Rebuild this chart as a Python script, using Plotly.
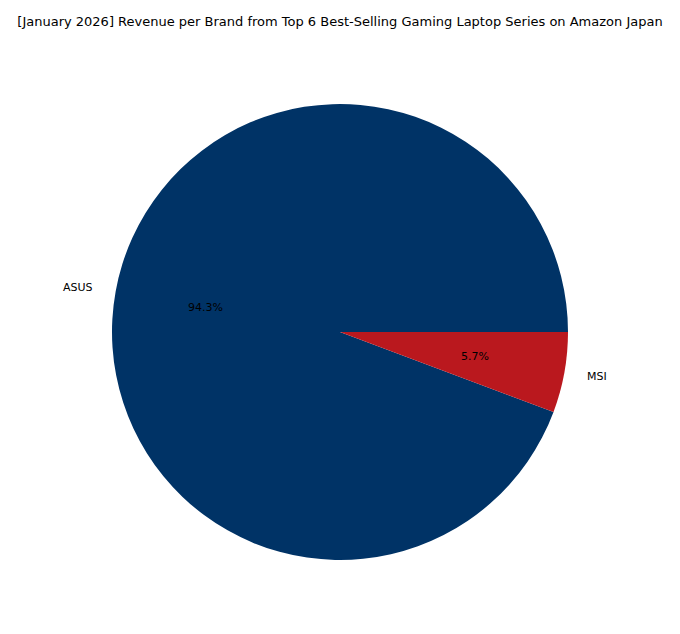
import math
import plotly.graph_objects as go

brands = ["ASUS", "MSI"]
shares = [94.3, 5.7]
colors = ["#003366", "#BA181E"]
title_text = "[January 2026] Revenue per Brand from Top 6 Best-Selling Gaming Laptop Series on Amazon Japan"

W, H = 680, 634
cx, cy, R = 340, 332, 228
ml, mr, mt, mb = cx - R, W - (cx + R), cy - R, H - (cy + R)

total = sum(shares)
# matplotlib order: counterclockwise from 3 o'clock; emulate with clockwise drawing
rot = 90 + 360 * (total - shares[0]) / total

fig = go.Figure(go.Pie(
    labels=brands, values=shares, sort=False, direction="clockwise",
    rotation=rot, marker=dict(colors=colors, line=dict(width=0)),
    textinfo="none", hoverinfo="label+percent", showlegend=False,
))

# matplotlib-style labels at 1.1R and percentages at 0.6R
start = 0.0
annotations = []
font = dict(family="DejaVu Sans", size=11, color="black")
for b, v in zip(brands, shares):
    frac = v / total
    mid = math.radians((start + frac / 2) * 360)
    start += frac
    def to_paper(r):
        px = cx + r * R * math.cos(mid)
        py = cy - r * R * math.sin(mid)
        return (px - ml) / (2 * R), (H - mb - py) / (2 * R)
    lx, ly = to_paper(1.1)
    left_side = math.cos(mid) < 0
    annotations.append(dict(x=lx, y=ly, xref="paper", yref="paper", text=b,
                            showarrow=False, font=font,
                            xanchor="right" if left_side else "left",
                            xshift=2 if left_side else -2,
                            yanchor="middle"))
    tx, ty = to_paper(0.6)
    annotations.append(dict(x=tx, y=ty, xref="paper", yref="paper",
                            text=f"{100*frac:.1f}%", showarrow=False, font=font,
                            xanchor="center", yanchor="middle"))

fig.update_layout(
    width=W, height=H,
    margin=dict(l=ml, r=mr, t=mt, b=mb),
    paper_bgcolor="white", plot_bgcolor="white",
    title=dict(text=title_text, x=0.5, xanchor="center", xref="paper",
               y=1 - 21 / H, yref="container", yanchor="middle",
               font=dict(family="DejaVu Sans", size=13, color="black")),
    xaxis=dict(visible=False), yaxis=dict(visible=False),
    annotations=annotations,
)
fig.write_html("out.html")
